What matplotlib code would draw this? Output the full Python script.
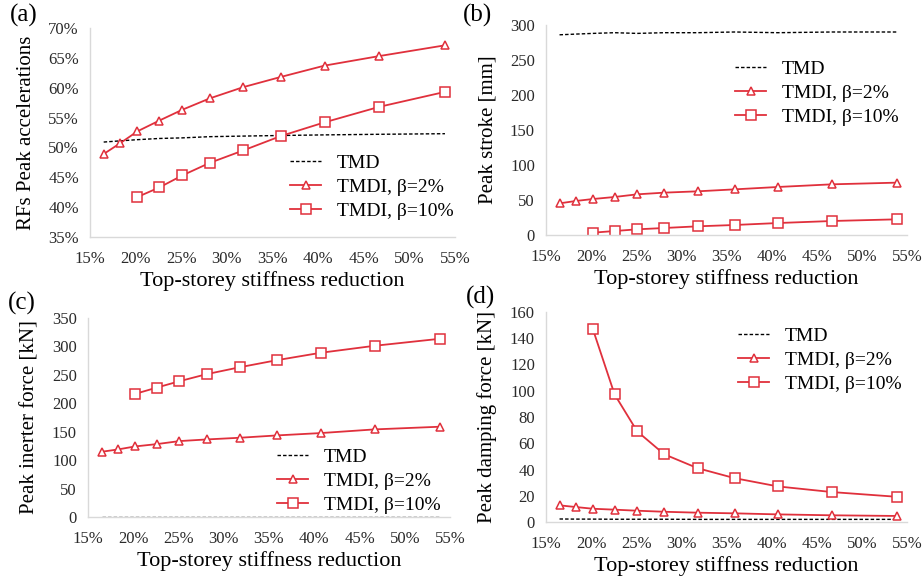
import matplotlib
matplotlib.use("Agg")
import matplotlib.pyplot as plt
import matplotlib.ticker as mticker

# ── Data ──

# top-storey stiffness reduction [%]
X_B2 = [16.5, 18.3, 20.2, 22.6, 25.1, 28.1, 31.8, 35.9, 40.7, 46.7, 53.9]
X_B10 = [20.2, 22.6, 25.1, 28.1, 31.8, 35.9, 40.7, 46.7, 53.9]

# (a) RFs peak accelerations [%]
ACC_TMD = [50.9, 51.1, 51.3, 51.5, 51.6, 51.8, 51.9, 52.0, 52.1, 52.2, 52.3]
ACC_B2 = [48.9, 50.7, 52.7, 54.5, 56.3, 58.2, 60.1, 61.8, 63.7, 65.3, 67.1]
ACC_B10 = [41.7, 43.3, 45.3, 47.4, 49.5, 51.9, 54.2, 56.8, 59.3]

# (b) peak stroke [mm]
STR_TMD = [286, 287, 288, 289, 288, 289, 289, 290, 289, 290, 290]
STR_B2 = [45.2, 48.6, 51.4, 54.3, 58.1, 60.5, 62.4, 65.2, 68.6, 72.4, 74.8]
STR_B10 = [3.3, 5.7, 8.1, 10.0, 12.4, 14.3, 17.1, 20.0, 22.4]

# (c) peak inerter force [kN]
INF_TMD = [0, 0, 0, 0, 0, 0, 0, 0, 0, 0, 0]
INF_B2 = [114.7, 118.8, 124.1, 128.2, 133.5, 136.4, 139.4, 143.5, 147.6, 154.1, 158.8]
INF_B10 = [216.5, 227.6, 238.8, 251.2, 263.5, 275.9, 288.8, 301.2, 313.5]

# (d) peak damping force [kN]
DMP_TMD = [2.3, 2.2, 2.2, 2.1, 2.1, 2.1, 2.0, 2.0, 2.0, 2.0, 2.0]
DMP_B2 = [12.7, 11.4, 10.1, 9.4, 8.6, 7.8, 7.1, 6.6, 5.8, 5.1, 4.6]
DMP_B10 = [146.8, 97.2, 69.1, 51.6, 41.0, 33.4, 27.1, 22.8, 19.2]

X_TICKS = [15, 20, 25, 30, 35, 40, 45, 50, 55]

RED = "#e0303c"
GRAY = "#d9d9d9"

plt.rcParams["font.family"] = ["Liberation Serif", "DejaVu Serif"]


def style_axes(ax, ylim, yticks, percent_y=False):
    ax.set_xlim(15, 55)
    ax.set_ylim(*ylim)
    ax.set_xticks(X_TICKS)
    ax.xaxis.set_major_formatter(mticker.FuncFormatter(lambda v, p: f"{v:.0f}%"))
    ax.set_yticks(yticks)
    if percent_y:
        ax.yaxis.set_major_formatter(mticker.FuncFormatter(lambda v, p: f"{v:.0f}%"))
    ax.tick_params(axis="both", length=0, labelsize=12, colors="#2a2a2a")
    ax.tick_params(axis="x", pad=10)
    ax.tick_params(axis="y", pad=8)
    for side in ("top", "right"):
        ax.spines[side].set_visible(False)
    for side in ("left", "bottom"):
        ax.spines[side].set_color(GRAY)
        ax.spines[side].set_linewidth(1.0)
    ax.set_xlabel("Top-storey stiffness reduction", fontsize=16, labelpad=3)


def draw_series(ax, tmd, b2, b10):
    ax.plot(X_B2, tmd, color="black", linestyle=(0, (2.5, 1.5)), linewidth=1.0,
            label="TMD")
    ax.plot(X_B2, b2, color=RED, linewidth=1.3, marker="^", markersize=6,
            markerfacecolor="white", markeredgecolor=RED, markeredgewidth=1.1,
            label="TMDI, β=2%")
    ax.plot(X_B10, b10, color=RED, linewidth=1.3, marker="s", markersize=6.5,
            markerfacecolor="white", markeredgecolor=RED, markeredgewidth=1.1,
            label="TMDI, β=10%")


def add_legend(ax, fig, x_px, y_px):
    W, H = fig.get_size_inches() * fig.dpi
    ax.legend(loc="upper left", bbox_to_anchor=(x_px / W, 1 - y_px / H),
              bbox_transform=fig.transFigure, frameon=False, fontsize=14,
              borderpad=0, borderaxespad=0, handlelength=1.6,
              handletextpad=0.8, labelspacing=0.33)


fig = plt.figure(figsize=(9.24, 5.81), dpi=100)
W, H = 924, 581


def axes_px(x0, x1, y_top, y_bot):
    return fig.add_axes([x0 / W, 1 - y_bot / H, (x1 - x0) / W, (y_bot - y_top) / H])


# ── (a) ──
ax_a = axes_px(90, 455, 28, 237)
draw_series(ax_a, ACC_TMD, ACC_B2, ACC_B10)
style_axes(ax_a, (35, 70), range(35, 71, 5), percent_y=True)
ax_a.set_ylabel("RFs Peak accelerations", fontsize=15, labelpad=9)
add_legend(ax_a, fig, 290, 154)

# ── (b) ──
ax_b = axes_px(546, 907, 25, 235)
draw_series(ax_b, STR_TMD, STR_B2, STR_B10)
style_axes(ax_b, (0, 300), range(0, 301, 50))
ax_b.set_ylabel("Peak stroke [mm]", fontsize=15, labelpad=9)
add_legend(ax_b, fig, 735, 60)

# ── (c) ──
ax_c = axes_px(88, 450, 318, 517)
draw_series(ax_c, INF_TMD, INF_B2, INF_B10)
style_axes(ax_c, (0, 350), range(0, 351, 50))
ax_c.set_ylabel("Peak inerter force [kN]", fontsize=15, labelpad=9)
add_legend(ax_c, fig, 277, 448)

# ── (d) ──
ax_d = axes_px(546, 907, 312, 522)
draw_series(ax_d, DMP_TMD, DMP_B2, DMP_B10)
style_axes(ax_d, (0, 160), range(0, 161, 20))
ax_d.set_ylabel("Peak damping force [kN]", fontsize=15, labelpad=9)
add_legend(ax_d, fig, 738, 327)

# panel letters
for label, xp, yp in [("(a)", 10, 15), ("(b)", 463, 15), ("(c)", 8, 303), ("(d)", 466, 297)]:
    fig.text(xp / W, 1 - yp / H, label, fontsize=18, ha="left", va="center")

fig.savefig("out.png", dpi=100)
